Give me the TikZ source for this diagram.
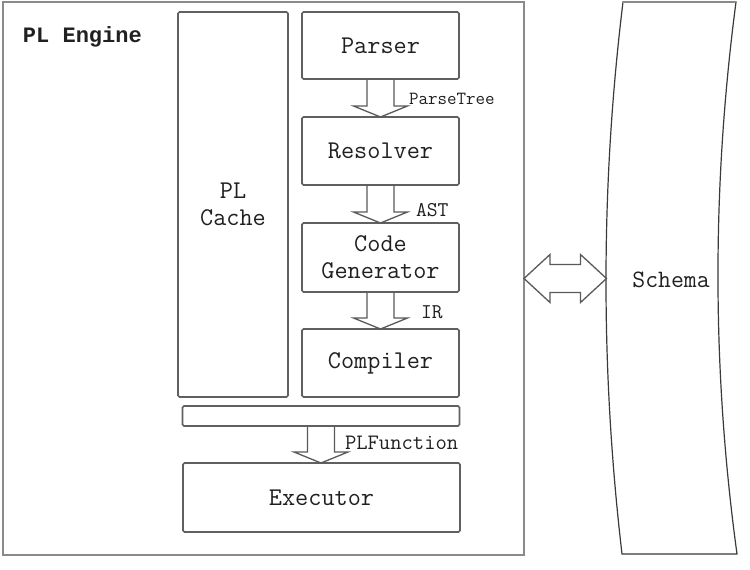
\documentclass[tikz,border=0pt]{standalone}
\usepackage{fontspec}
\newfontfamily\titlefont{Liberation Mono}
\usetikzlibrary{calc}
\definecolor{boxgray}{HTML}{606060}
\definecolor{outergray}{HTML}{8A8A8A}
\definecolor{arrgray}{HTML}{5A5A5A}
\definecolor{schemagray}{HTML}{3A3A3A}
\definecolor{txt}{HTML}{202020}
\newcommand{\blkdown}[2]{%
  \draw[blk] let \p1=(#1.south), \p2=(#2.north) in
    (\x1-13.5pt,\y1) -- (\x1-13.5pt,\y2+11pt) -- (\x1-27pt,\y2+11pt) -- (\x1,\y2)
    -- (\x1+27pt,\y2+11pt) -- (\x1+13.5pt,\y2+11pt) -- (\x1+13.5pt,\y1);
}
\begin{document}
\begin{tikzpicture}[x=1pt,y=-1pt,
  every node/.style={text=txt, outer sep=0pt},
  box/.style={draw=boxgray, line width=1.6pt, rounded corners=1.5pt, inner sep=0pt,
    align=center, font=\ttfamily\fontsize{25.5}{27}\selectfont},
  blk/.style={draw=arrgray, line width=1.3pt, line join=miter},
  lbl/.style={anchor=west, inner sep=0pt, font=\ttfamily\fontsize{21}{23}\selectfont}
]
\useasboundingbox[fill=white] (0,0) rectangle (750,570);

% outer engine box
\node[draw=outergray, line width=2.5pt, minimum width=521pt, minimum height=553pt, inner sep=0pt] (engine) at (263.5,278.5) {};
\node[anchor=west, inner sep=0pt, font=\titlefont\bfseries\fontsize{22}{26}\selectfont] (title) at (23,37) {PL Engine};

% boxes
\node[box, minimum width=110pt, minimum height=385pt] (cache) at (233,204.5) {PL\\Cache};
\node[box, minimum width=157pt, minimum height=67pt] (parser) at (380.5,45.5) {Parser};
\node[box, minimum width=157pt, minimum height=68pt] (resolver) at (380.5,151) {Resolver};
\node[box, minimum width=157pt, minimum height=69pt] (codegen) at (380.5,257.5) {Code\\Generator};
\node[box, minimum width=157pt, minimum height=68pt] (compiler) at (380.5,363) {Compiler};
\node[box, minimum width=277pt, minimum height=20pt] (bar) at (321,416) {};
\node[box, minimum width=277pt, minimum height=69pt] (executor) at (321.5,497.5) {Executor};

% block arrows
\blkdown{parser}{resolver}
\blkdown{resolver}{codegen}
\blkdown{codegen}{compiler}
\blkdown{bar}{executor}

% labels
\node[lbl, font=\ttfamily\fontsize{18.5}{20}\selectfont] (lparse) at (409,99) {ParseTree};
\node[lbl] (last) at (416,210) {AST};
\node[lbl] (lir) at (421,312) {IR};
\node[lbl, font=\ttfamily\fontsize{22}{24}\selectfont] (lplf) at (345,443) {PLFunction};

% schema
\draw[schemagray, line width=1.2pt]
  (623,2) -- (736,2) .. controls (711.8,186) and (711.8,370) .. (737,554)
  -- (622,554) .. controls (600.5,370) and (600.5,186) .. (623,2) -- cycle;
\draw[outergray, line width=2.5pt] (623,2) -- (736,2);
\coordinate (schemaL) at (606.5,278.5);
\node[font=\ttfamily\fontsize{25}{27}\selectfont] (schema) at (671,280) {Schema};

% double arrow
\draw[blk] let \p1=(engine.east), \p2=(schemaL) in
  (\x1,\y1) -- (\x1+26pt,\y1+24pt) -- (\x1+26pt,\y1+14pt) -- (\x2-26pt,\y1+14pt)
  -- (\x2-26pt,\y1+24pt) -- (\x2,\y1) -- (\x2-26pt,\y1-24pt) -- (\x2-26pt,\y1-14pt)
  -- (\x1+26pt,\y1-14pt) -- (\x1+26pt,\y1-24pt) -- cycle;
\end{tikzpicture}
\end{document}
